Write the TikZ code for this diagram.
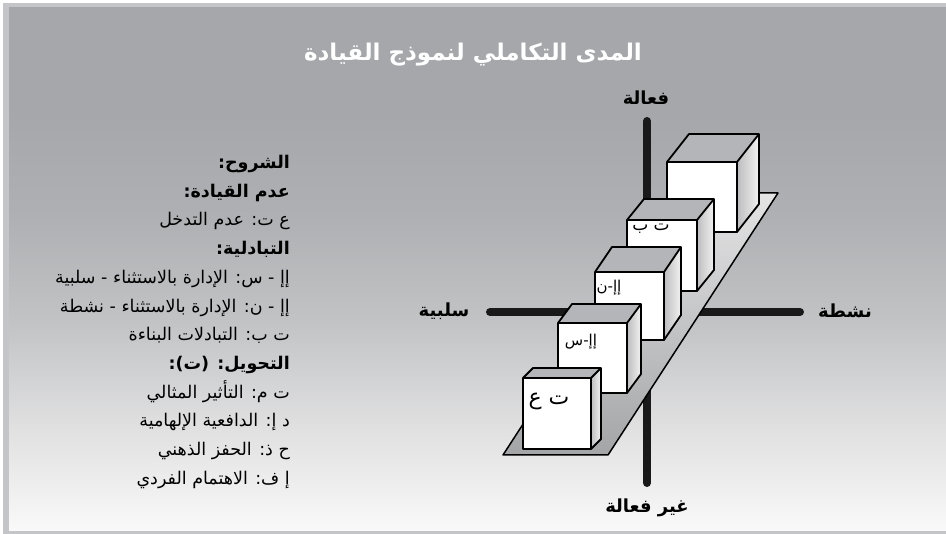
\documentclass[tikz,border=0pt]{standalone}
\usepackage{fontspec}
\TeXXeTstate=1
\newfontfamily\arabicfont[Script=Arabic]{DejaVu Sans}
\definecolor{framegray}{HTML}{C4C5C8}
\definecolor{bgtop}{HTML}{A6A7AA}
\definecolor{bgm2}{HTML}{AFB0B3}
\definecolor{bgmid}{HTML}{C2C3C5}
\definecolor{bgb2}{HTML}{E0E0E1}
\definecolor{bgbot}{HTML}{F9F9F9}
\definecolor{topface}{HTML}{B4B5B8}
\definecolor{sideL}{HTML}{BDBDBF}
\definecolor{sideR}{HTML}{F2F2F2}
\definecolor{planetop}{HTML}{E4E4E5}
\definecolor{planebot}{HTML}{A4A5A7}
\pgfdeclareverticalshading{bgshade}{100bp}{color(0bp)=(bgbot); color(25bp)=(bgbot); color(35bp)=(bgb2); color(45bp)=(bgmid); color(55bp)=(bgm2); color(65bp)=(bgtop); color(100bp)=(bgtop)}
\tikzset{
  cubeline/.style={draw=black, line width=1.8pt, line join=round},
  axisline/.style={line width=8pt, line cap=round, draw=black!90},
  legendtxt/.style={anchor=base east, inner sep=0pt, font=\arabicfont\fontsize{17.5}{20}\selectfont},
  legendhead/.style={legendtxt, font=\arabicfont\bfseries\fontsize{17.5}{20}\selectfont},
  axislabel/.style={inner sep=0pt, font=\arabicfont\bfseries\fontsize{18}{21}\selectfont},
  cubelabel/.style={inner sep=0pt, font=\arabicfont\fontsize{15}{17}\selectfont},
}
\newcommand\drawcube[7]{%
  \coordinate (#7-a) at (#1,#2);
  \coordinate (#7-b) at (#1+#3,#2);
  \coordinate (#7-c) at (#1+#3,#2+#4);
  \coordinate (#7-d) at (#1,#2+#4);
  \coordinate (#7-e) at (#1+#5,#2-#6);
  \coordinate (#7-f) at (#1+#3+#5,#2-#6);
  \coordinate (#7-g) at (#1+#3+#5,#2+#4-#6);
  \fill[topface] (#7-a)--(#7-e)--(#7-f)--(#7-b)--cycle;
  \shade[left color=sideL, right color=sideR] (#7-b)--(#7-f)--(#7-g)--(#7-c)--cycle;
  \fill[white] (#7-a) rectangle (#7-c);
  \draw[cubeline] (#7-d)--(#7-a)--(#7-e)--(#7-f)--(#7-g)--(#7-c)--cycle (#7-a)--(#7-b)--(#7-c) (#7-b)--(#7-f);
}
\begin{document}
\begin{tikzpicture}[x=1pt,y=-1pt]
\useasboundingbox (0,0) rectangle (946,534);
\fill[white] (0,0) rectangle (946,534);
\fill[framegray] (3,3) rectangle (946,534);
\shade[shading=bgshade] (9,8) rectangle (946,531);

% title
\node[inner sep=0pt, text=white, font=\arabicfont\bfseries\fontsize{23}{26}\selectfont] (title) at (473,55) {\beginR المدى التكاملي لنموذج القيادة\endR};

% legend (baselines)
\node[legendhead] (l1) at (290,169) {\beginR الشروح:\endR};
\node[legendhead] (l2) at (290,198) {\beginR عدم القيادة:\endR};
\node[legendtxt] (l3) at (290,226) {\beginR ع ت: عدم التدخل\endR};
\node[legendhead] (l4) at (290,255) {\beginR التبادلية:\endR};
\node[legendtxt] (l5) at (290,284) {\beginR إإ - س: الإدارة بالاستثناء - سلبية\endR};
\node[legendtxt] (l6) at (290,312.5) {\beginR إإ - ن: الإدارة بالاستثناء - نشطة\endR};
\node[legendtxt] (l7) at (290,341) {\beginR ت ب: التبادلات البناءة\endR};
\node[legendhead] (l8) at (290,370) {\beginR التحويل: (ت):\endR};
\node[legendtxt] (l9) at (290,399) {\beginR ت م: التأثير المثالي\endR};
\node[legendtxt] (l10) at (290,427) {\beginR د إ: الدافعية الإلهامية\endR};
\node[legendtxt] (l11) at (290,456) {\beginR ح ذ: الحفز الذهني\endR};
\node[legendtxt] (l12) at (290,485) {\beginR إ ف: الاهتمام الفردي\endR};

% axes
\coordinate (vtop) at (647,121);
\coordinate (vbot) at (647,483);
\coordinate (hleft) at (490,312);
\coordinate (hright) at (800,312);
\draw[axisline] (vtop) -- (vbot);
\draw[axisline] (hleft) -- (hright);
\node[axislabel] (ltop) at (646,98) {\beginR فعالة\endR};
\node[axislabel] (lbot) at (647,508) {\beginR غير فعالة\endR};
\node[axislabel] (lleft) at (444,311) {\beginR سلبية\endR};
\node[axislabel] (lright) at (845,311) {\beginR نشطة\endR};

% plane
\coordinate (p1) at (503,455);
\coordinate (p2) at (608,455);
\coordinate (p3) at (778,193);
\coordinate (p4) at (673,193);
\shade[top color=planetop, bottom color=planebot] (p1)--(p2)--(p3)--(p4)--cycle;
\draw[line width=1.5pt, line join=round] (p1)--(p2)--(p3)--(p4)--cycle;

% cubes back to front
\drawcube{667}{162}{70}{70}{22}{28}{c0}
\drawcube{627}{220}{70}{71}{17}{21}{c1}
\node[cubelabel, font=\arabicfont\fontsize{17}{19}\selectfont] (t1) at (651,229) {\beginR ت ب\endR};
\drawcube{595}{272}{69}{68}{17}{25}{c2}
\node[cubelabel] (t2) at (609,288) {\beginR إإ-ن\endR};
\drawcube{558}{323}{69}{70}{14}{19}{c3}
\node[cubelabel] (t3) at (581,342) {\beginR إإ-س\endR};
\drawcube{523}{378}{68}{71}{10}{10}{c4}
\node[cubelabel, font=\arabicfont\fontsize{22}{24}\selectfont] (t4) at (549,401) {\beginR ت ع\endR};
\end{tikzpicture}
\end{document}
